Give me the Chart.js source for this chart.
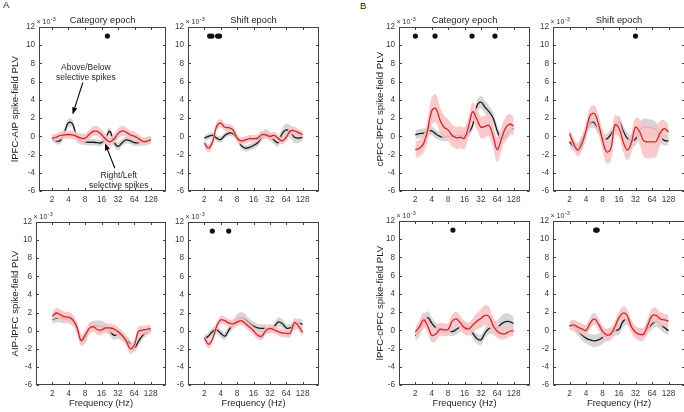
<!DOCTYPE html>
<html>
<head>
<meta charset="utf-8">
<script src="https://cdn.jsdelivr.net/npm/chart.js@4.4.1/dist/chart.umd.min.js"></script>
<style>
  html, body { margin: 0; padding: 0; background: #fff; overflow: hidden; }
  #wrap { position: relative; width: 684px; height: 412px; overflow: hidden; }
  #wrap canvas { position: absolute; left: 0; top: 0; }
  .tag { position: absolute; font: 9.5px "Liberation Sans", Arial, sans-serif; color: #222; line-height: 10px; }
</style>
</head>
<body>
<div id="wrap">
  <div class="tag" style="left:3px;top:0px">A</div>
  <div class="tag" style="left:360px;top:1px">B</div>
</div>
<script>
// quarter-octave frequency grid (Hz)
const FREQS = [2, 2.38, 2.83, 3.36, 4, 4.76, 5.66, 6.73, 8, 9.51, 11.3, 13.45, 16, 19.03, 22.6, 26.9, 32, 38.05, 45.25, 53.8, 64, 76.1, 90.5, 107.6, 128];
const FREQ_TICKS = [2, 4, 8, 16, 32, 64, 128];
const PLV_MIN = -6, PLV_MAX = 12, PLV_STEP = 2;
const SIG_LEVEL = 11;

// values in units of 1e-3. red = right/left selective, black = above/below selective
// A top left: lPFC-AIP, category epoch
const aCatRed = [-0.2, -0.1, 0.1, 0.15, 0.2, 0.15, 0.0, -0.2, -0.2, 0.2, 0.55, 0.55, 0.2, -0.3, -0.6, -0.3, 0.3, 0.6, 0.45, 0.15, 0.0, -0.25, -0.55, -0.55, -0.35];
const aCatRedErr = [0.4, 0.4, 0.45, 0.45, 0.45, 0.45, 0.45, 0.5, 0.5, 0.5, 0.55, 0.55, 0.55, 0.55, 0.55, 0.55, 0.55, 0.55, 0.5, 0.5, 0.5, 0.45, 0.45, 0.4, 0.4];
const aCatBlack = [-0.2, -0.5, -0.45, 0.4, 1.5, 1.35, -0.1, -0.5, -0.6, -0.65, -0.65, -0.7, -0.7, -0.2, 0.55, -0.6, -1.1, -0.7, -0.4, -0.5, -0.7, -0.7, -0.6, -0.45, -0.4];
const aCatBlackErr = [0.35, 0.35, 0.4, 0.45, 0.45, 0.45, 0.45, 0.4, 0.35, 0.35, 0.35, 0.35, 0.35, 0.4, 0.45, 0.45, 0.45, 0.4, 0.4, 0.35, 0.35, 0.35, 0.35, 0.4, 0.4];
const aCatSig = [20.5];

// A top right: lPFC-AIP, shift epoch
const aShiftRed = [-0.75, -1.3, -0.6, 1.1, 1.45, 1.0, 0.95, 0.7, -0.2, -0.5, -0.4, -0.25, -0.25, -0.2, 0.2, 0.15, 0.0, 0.1, -0.2, -0.5, -0.1, 0.6, 0.6, 0.4, 0.2];
const aShiftRedErr = [0.4, 0.45, 0.45, 0.45, 0.45, 0.4, 0.4, 0.4, 0.4, 0.4, 0.4, 0.4, 0.4, 0.4, 0.4, 0.4, 0.4, 0.4, 0.4, 0.4, 0.4, 0.45, 0.45, 0.4, 0.35];
const aShiftBlack = [-0.2, 0.0, 0.1, -0.2, -0.35, 0.1, 0.35, 0.3, -0.2, -1.0, -1.3, -1.2, -1.0, -0.7, -0.1, 0.3, 0.0, -0.4, -0.7, 0.3, 0.7, 0.5, -0.1, -0.2, -0.1];
const aShiftBlackErr = [0.3, 0.35, 0.35, 0.35, 0.35, 0.35, 0.35, 0.35, 0.35, 0.35, 0.35, 0.35, 0.35, 0.4, 0.45, 0.5, 0.5, 0.45, 0.45, 0.55, 0.7, 0.7, 0.6, 0.5, 0.4];
const aShiftSig = [2.5, 2.75, 3.5, 3.8];

// A bottom left: AIP-lPFC, category epoch
const a2CatRed = [1.6, 1.95, 1.75, 1.55, 1.5, 1.2, 0.4, -1.1, -0.5, 0.25, 0.45, 0.1, 0.1, 0.3, 0.3, 0.2, -0.1, -0.5, -1.1, -2.0, -1.6, -0.1, 0.05, 0.15, 0.25];
const a2CatRedErr = [0.5, 0.55, 0.55, 0.55, 0.55, 0.55, 0.55, 0.55, 0.55, 0.55, 0.55, 0.55, 0.55, 0.5, 0.5, 0.5, 0.5, 0.5, 0.55, 0.55, 0.55, 0.55, 0.5, 0.45, 0.4];
const a2CatBlack = [1.2, 1.4, 1.4, 1.3, 1.3, 1.0, 0.2, -1.0, -0.8, 0.2, 0.5, 0.5, 0.5, 0.3, 0.0, -0.5, -0.4, -0.6, -1.0, -1.5, -1.9, -1.2, -0.55, -0.15, 0.05];
const a2CatBlackErr = [0.45, 0.5, 0.5, 0.5, 0.5, 0.5, 0.55, 0.6, 0.6, 0.6, 0.6, 0.6, 0.6, 0.55, 0.5, 0.5, 0.5, 0.5, 0.5, 0.5, 0.5, 0.5, 0.45, 0.4, 0.35];
const a2CatSig = [];

// A bottom right: AIP-lPFC, shift epoch
const a2ShiftRed = [-0.8, -1.5, -0.9, 0.5, 1.2, 1.1, 0.85, 0.75, 0.95, 1.1, 0.8, 0.4, 0.0, -0.5, -0.6, 0.0, 0.25, 0.1, -0.1, -0.25, -0.3, -0.25, 0.9, 0.5, -0.2];
const a2ShiftRedErr = [0.4, 0.45, 0.45, 0.45, 0.45, 0.45, 0.45, 0.45, 0.45, 0.45, 0.45, 0.45, 0.45, 0.45, 0.45, 0.45, 0.45, 0.45, 0.45, 0.45, 0.45, 0.45, 0.5, 0.5, 0.45];
const a2ShiftBlack = [-0.9, -0.6, -0.1, 0.1, -0.3, -0.6, 0.1, 0.7, 1.2, 1.4, 1.2, 0.8, 0.5, 0.3, 0.25, 0.25, 0.1, 0.4, 0.95, 0.8, 0.3, 0.3, 0.6, 0.8, 0.7];
const a2ShiftBlackErr = [0.35, 0.4, 0.45, 0.45, 0.45, 0.45, 0.45, 0.5, 0.6, 0.65, 0.6, 0.55, 0.5, 0.45, 0.45, 0.45, 0.45, 0.45, 0.5, 0.5, 0.45, 0.45, 0.5, 0.55, 0.5];
const a2ShiftSig = [2.8, 5.6];

// B top left: cPFC-lPFC, category epoch
const bCatRed = [-1.45, -1.3, -0.8, 0.7, 2.8, 3.05, 1.8, 1.0, 0.7, 0.1, -0.15, -0.1, -0.2, 1.1, 2.7, 1.9, 1.0, 1.1, 1.2, 0.0, -1.45, -0.3, 0.9, 1.35, 1.15];
const bCatRedErr = [0.9, 0.9, 1.0, 1.2, 1.5, 1.55, 1.4, 1.3, 1.2, 1.2, 1.2, 1.2, 1.2, 1.1, 1.0, 1.1, 1.2, 1.2, 1.2, 1.3, 1.35, 1.3, 1.2, 1.1, 1.0];
const bCatBlack = [0.15, 0.3, 0.35, 0.55, 0.6, 0.25, 0.0, -0.1, 0.0, 0.0, 0.1, 0.1, 0.1, 0.4, 1.2, 3.3, 3.75, 3.2, 2.7, 2.0, 0.6, -0.3, 0.0, 0.6, 0.9];
const bCatBlackErr = [0.45, 0.5, 0.5, 0.5, 0.5, 0.5, 0.45, 0.45, 0.45, 0.45, 0.45, 0.45, 0.45, 0.45, 0.5, 0.6, 0.7, 0.7, 0.65, 0.6, 0.55, 0.55, 0.55, 0.55, 0.5];
const bCatSig = [2, 4.6, 22, 58];

// B top right: cPFC-lPFC, shift epoch
const bShiftRed = [0.3, -0.8, -1.5, -0.8, 0.6, 2.3, 2.5, 1.4, -0.4, -1.7, -1.4, 1.25, 0.9, -0.6, -1.5, -0.7, 1.0, 0.5, -0.5, -0.6, -0.6, -0.55, 0.4, 0.85, 0.5];
const bShiftRedErr = [0.5, 0.6, 0.7, 0.8, 0.9, 0.9, 0.9, 1.0, 1.1, 1.3, 1.3, 1.1, 1.0, 1.1, 1.1, 1.1, 1.0, 1.4, 1.7, 1.8, 1.8, 1.7, 1.3, 0.9, 0.8];
const bShiftBlack = [-0.6, -1.1, -1.2, -0.4, 0.6, 1.5, 1.5, 0.8, -0.2, -0.3, 0.2, 1.0, 1.6, 0.6, -0.2, -0.5, -0.3, 0.6, 1.05, 1.0, 0.9, 0.7, 0.0, -0.45, -0.5];
const bShiftBlackErr = [0.45, 0.5, 0.55, 0.55, 0.6, 0.6, 0.6, 0.6, 0.6, 0.6, 0.6, 0.6, 0.65, 0.65, 0.65, 0.65, 0.7, 0.8, 0.9, 0.9, 0.9, 0.85, 0.7, 0.55, 0.45];
const bShiftSig = [32];

// B bottom left: lPFC-cPFC, category epoch
const b2CatRed = [-0.2, 0.4, 1.15, 0.5, -0.55, -0.4, 0.1, 0.05, 0.1, 1.0, 1.25, 0.8, 0.3, 0.15, 0.55, 1.0, 1.3, 1.65, 1.5, 0.5, -0.1, -0.35, -0.35, -0.1, -0.05];
const b2CatRedErr = [0.6, 0.7, 0.8, 0.8, 0.75, 0.75, 0.7, 0.7, 0.7, 0.75, 0.75, 0.75, 0.75, 0.7, 0.75, 0.9, 1.0, 1.1, 1.1, 0.9, 0.75, 0.65, 0.6, 0.6, 0.6];
const b2CatBlack = [-0.6, 0.0, 0.9, 1.4, 0.8, 0.3, 0.2, 0.15, 0.0, -0.15, 0.1, 0.4, 0.35, 0.2, -0.3, -0.9, -1.05, -0.3, 0.2, 0.3, 0.3, 0.7, 0.95, 0.95, 0.75];
const b2CatBlackErr = [0.6, 0.65, 0.7, 0.7, 0.6, 0.55, 0.5, 0.5, 0.5, 0.5, 0.55, 0.55, 0.55, 0.55, 0.55, 0.55, 0.55, 0.55, 0.6, 0.7, 0.8, 0.9, 0.9, 0.85, 0.7];
const b2CatSig = [9.8];

// B bottom right: lPFC-cPFC, shift epoch
const b2ShiftRed = [0.5, 0.6, 0.35, 0.15, 0.0, 0.8, 1.25, 0.7, -0.1, -0.5, -0.4, 0.4, 1.4, 1.9, 1.6, 0.4, -0.2, -0.45, -0.4, 0.6, 1.6, 1.65, 1.25, 1.15, 1.0];
const b2ShiftRedErr = [0.5, 0.55, 0.6, 0.6, 0.6, 0.65, 0.65, 0.65, 0.65, 0.65, 0.65, 0.65, 0.65, 0.7, 0.7, 0.7, 0.7, 0.7, 0.7, 0.75, 0.8, 0.8, 0.75, 0.7, 0.65];
const b2ShiftBlack = [0.5, 0.4, 0.0, -0.5, -0.85, -1.05, -1.15, -1.05, -0.8, -0.5, -0.3, 0.0, 0.1, 1.0, 1.2, 0.5, -0.2, -0.4, -0.3, 0.2, 0.7, 1.0, 0.7, 0.3, -0.05];
const b2ShiftBlackErr = [0.45, 0.5, 0.55, 0.6, 0.6, 0.65, 0.7, 0.7, 0.7, 0.65, 0.65, 0.6, 0.6, 0.6, 0.6, 0.6, 0.6, 0.6, 0.6, 0.6, 0.6, 0.6, 0.6, 0.6, 0.55];
const b2ShiftSig = [6.0, 6.4];

const FONT = '"Liberation Sans", Arial, sans-serif';
const RED = 'rgb(226, 32, 38)';
const PINK = 'rgba(249, 196, 196, 0.9)';
const GRAY = 'rgb(214, 214, 214)';
const BLACK = 'rgb(25, 25, 25)';
const AXIS_W = 30, AXIS_H = 16, CANVAS_W = 700, CANVAS_H = 412;

function arrow(ctx, x1, y1, x2, y2) {
  const a = Math.atan2(y2 - y1, x2 - x1), L = 7, W = 2.6;
  const c = Math.cos(a), s = Math.sin(a);
  ctx.beginPath();
  ctx.moveTo(x1, y1);
  ctx.lineTo(x2 - L * 0.8 * c, y2 - L * 0.8 * s);
  ctx.stroke();
  ctx.beginPath();
  ctx.moveTo(x2, y2);
  ctx.lineTo(x2 - L * c + W * s, y2 - L * s - W * c);
  ctx.lineTo(x2 - L * c - W * s, y2 - L * s + W * c);
  ctx.closePath();
  ctx.fill();
}

// box with inward ticks, titles and notes
const panelDeco = {
  id: 'panelDeco',
  afterDraw(chart, args, o) {
    const { ctx, chartArea: a, scales: { x, y } } = chart;
    ctx.save();
    ctx.strokeStyle = '#404040';
    ctx.lineWidth = 1;
    const l = Math.round(a.left) + 0.5, r = Math.round(a.right) - 0.5;
    const t = Math.round(a.top) + 0.5, b = Math.round(a.bottom) - 0.5;
    ctx.strokeRect(l, t, r - l, b - t);
    ctx.beginPath();
    FREQ_TICKS.forEach(f => {
      const px = Math.round(x.getPixelForValue(f)) + 0.5;
      ctx.moveTo(px, b); ctx.lineTo(px, b - 2.5);
      ctx.moveTo(px, t); ctx.lineTo(px, t + 2.5);
    });
    y.ticks.forEach(tk => {
      const py = Math.round(y.getPixelForValue(tk.value)) + 0.5;
      ctx.moveTo(l, py); ctx.lineTo(l + 2.5, py);
      ctx.moveTo(r, py); ctx.lineTo(r - 2.5, py);
    });
    ctx.stroke();

    ctx.fillStyle = '#333';
    ctx.textAlign = 'left';
    ctx.textBaseline = 'alphabetic';
    ctx.font = '7px ' + FONT;
    ctx.fillText('\u00d7 10', a.left - 2.5, a.top - 3);
    const w = ctx.measureText('\u00d7 10').width;
    ctx.font = '5.5px ' + FONT;
    ctx.fillText('-3', a.left - 2 + w, a.top - 6.2);

    ctx.fillStyle = '#1e1e1e';
    ctx.textAlign = 'center';
    ctx.textBaseline = 'middle';
    if (o.title) {
      ctx.font = '9.3px ' + FONT;
      ctx.fillText(o.title, (a.left + a.right) / 2, a.top - 7);
    }
    if (o.xlabel) {
      ctx.font = '9.3px ' + FONT;
      ctx.fillText(o.xlabel, (a.left + a.right) / 2, a.bottom + 18);
    }
    if (o.ylabel) {
      ctx.save();
      ctx.translate(o.ylabelX, (a.top + a.bottom) / 2);
      ctx.rotate(-Math.PI / 2);
      ctx.font = '9.6px ' + FONT;
      ctx.fillText(o.ylabel, 0, 0);
      ctx.restore();
    }
    (o.notes || []).forEach(n => {
      ctx.font = '8.5px ' + FONT;
      ctx.fillText(n.text, x.getPixelForValue(n.f), y.getPixelForValue(n.v));
    });
    ctx.fillStyle = '#000';
    ctx.strokeStyle = '#000';
    ctx.lineWidth = 1.1;
    (o.arrows || []).forEach(ar => {
      arrow(ctx, x.getPixelForValue(ar.from[0]), y.getPixelForValue(ar.from[1]),
                 x.getPixelForValue(ar.to[0]), y.getPixelForValue(ar.to[1]));
    });
    ctx.restore();
  }
};

function pts(arr) {
  return arr.map((v, i) => ({ x: FREQS[i], y: v }));
}
function shifted(mean, err, sign) {
  return mean.map((v, i) => ({ x: FREQS[i], y: v + sign * err[i] }));
}

function makeDatasets(p) {
  const edge = { borderWidth: 1, borderColor: 'rgba(0,0,0,0)', pointRadius: 0, tension: 0.4 };
  return [
    { data: p.sig.map(f => ({ x: f, y: SIG_LEVEL })), showLine: false, pointRadius: 2.6,
      pointBackgroundColor: '#111', pointBorderWidth: 0 },
    { data: pts(p.red), borderColor: RED, borderWidth: 1.3, pointRadius: 0, tension: 0.4, fill: false },
    { ...edge, data: shifted(p.red, p.redErr, 1), fill: '+1', backgroundColor: PINK },
    { ...edge, data: shifted(p.red, p.redErr, -1), fill: false },
    { data: pts(p.black), borderColor: BLACK, borderWidth: 1.3, pointRadius: 0, tension: 0.4, fill: false },
    { ...edge, data: shifted(p.black, p.blackErr, 1), fill: '+1', backgroundColor: GRAY },
    { ...edge, data: shifted(p.black, p.blackErr, -1), fill: false }
  ];
}

const panels = [
  { box: [39, 27, 166, 191], xr: [1.16, 240], red: aCatRed, redErr: aCatRedErr, black: aCatBlack, blackErr: aCatBlackErr, sig: aCatSig,
    deco: { title: 'Category epoch', ylabel: 'lPFC-AIP spike-field PLV', ylabelX: 15,
      notes: [{ text: 'Above/Below', f: 8.3, v: 7.55 }, { text: 'selective spikes', f: 8.3, v: 6.45 },
              { text: 'Right/Left', f: 33, v: -4.3 }, { text: 'selective spikes', f: 33, v: -5.4 }],
      arrows: [{ from: [7.3, 5.9], to: [4.75, 2.4] }, { from: [28, -3.5], to: [18.5, -0.75] }] } },
  { box: [188, 27, 319, 191], xr: [1, 256], red: aShiftRed, redErr: aShiftRedErr, black: aShiftBlack, blackErr: aShiftBlackErr, sig: aShiftSig,
    deco: { title: 'Shift epoch' } },
  { box: [36, 222, 166, 385], xr: [1, 245], red: a2CatRed, redErr: a2CatRedErr, black: a2CatBlack, blackErr: a2CatBlackErr, sig: a2CatSig,
    deco: { ylabel: 'AIP-lPFC spike-field PLV', ylabelX: 15, xlabel: 'Frequency (Hz)' } },
  { box: [188, 222, 319, 385], xr: [1, 256], red: a2ShiftRed, redErr: a2ShiftRedErr, black: a2ShiftBlack, blackErr: a2ShiftBlackErr, sig: a2ShiftSig,
    deco: { xlabel: 'Frequency (Hz)' } },
  { box: [399, 27, 530, 191], xr: [1, 256], red: bCatRed, redErr: bCatRedErr, black: bCatBlack, blackErr: bCatBlackErr, sig: bCatSig,
    deco: { title: 'Category epoch', ylabel: 'cPFC-lPFC spike-field PLV', ylabelX: 380 } },
  { box: [553, 27, 685, 191], xr: [1, 256], red: bShiftRed, redErr: bShiftRedErr, black: bShiftBlack, blackErr: bShiftBlackErr, sig: bShiftSig,
    deco: { title: 'Shift epoch' } },
  { box: [399, 221, 530, 385], xr: [1, 256], red: b2CatRed, redErr: b2CatRedErr, black: b2CatBlack, blackErr: b2CatBlackErr, sig: b2CatSig,
    deco: { ylabel: 'lPFC-cPFC spike-field PLV', ylabelX: 380, xlabel: 'Frequency (Hz)' } },
  { box: [553, 221, 685, 385], xr: [1, 256], red: b2ShiftRed, redErr: b2ShiftRedErr, black: b2ShiftBlack, blackErr: b2ShiftBlackErr, sig: b2ShiftSig,
    deco: { xlabel: 'Frequency (Hz)' } }
];

const wrap = document.getElementById('wrap');
panels.forEach(p => {
  const canvas = document.createElement('canvas');
  canvas.width = CANVAS_W;
  canvas.height = CANVAS_H;
  wrap.appendChild(canvas);
  const [l, t, r, b] = p.box;
  new Chart(canvas.getContext('2d'), {
    type: 'line',
    data: { datasets: makeDatasets(p) },
    plugins: [panelDeco],
    options: {
      responsive: false,
      devicePixelRatio: 1,
      animation: false,
      events: [],
      layout: { padding: { left: l - AXIS_W, top: t, right: CANVAS_W - r, bottom: CANVAS_H - b - AXIS_H } },
      plugins: { legend: { display: false }, tooltip: { enabled: false }, title: { display: false }, panelDeco: p.deco },
      scales: {
        x: {
          type: 'logarithmic', min: p.xr[0], max: p.xr[1], bounds: 'data',
          grid: { display: false, drawTicks: false }, border: { display: false },
          afterBuildTicks: axis => { axis.ticks = FREQ_TICKS.map(v => ({ value: v })); },
          afterFit: axis => { axis.height = AXIS_H; },
          ticks: { autoSkip: false, maxRotation: 0, minRotation: 0, padding: 4, color: '#3a3a3a',
                   font: { family: FONT, size: 8.2 }, callback: v => String(v) }
        },
        y: {
          type: 'linear', min: PLV_MIN, max: PLV_MAX,
          grid: { display: false, drawTicks: false }, border: { display: false },
          afterFit: axis => { axis.width = AXIS_W; },
          ticks: { stepSize: PLV_STEP, padding: 4, color: '#3a3a3a',
                   font: { family: FONT, size: 8.2 }, callback: v => String(v) }
        }
      }
    }
  });
});
</script>
</body>
</html>
